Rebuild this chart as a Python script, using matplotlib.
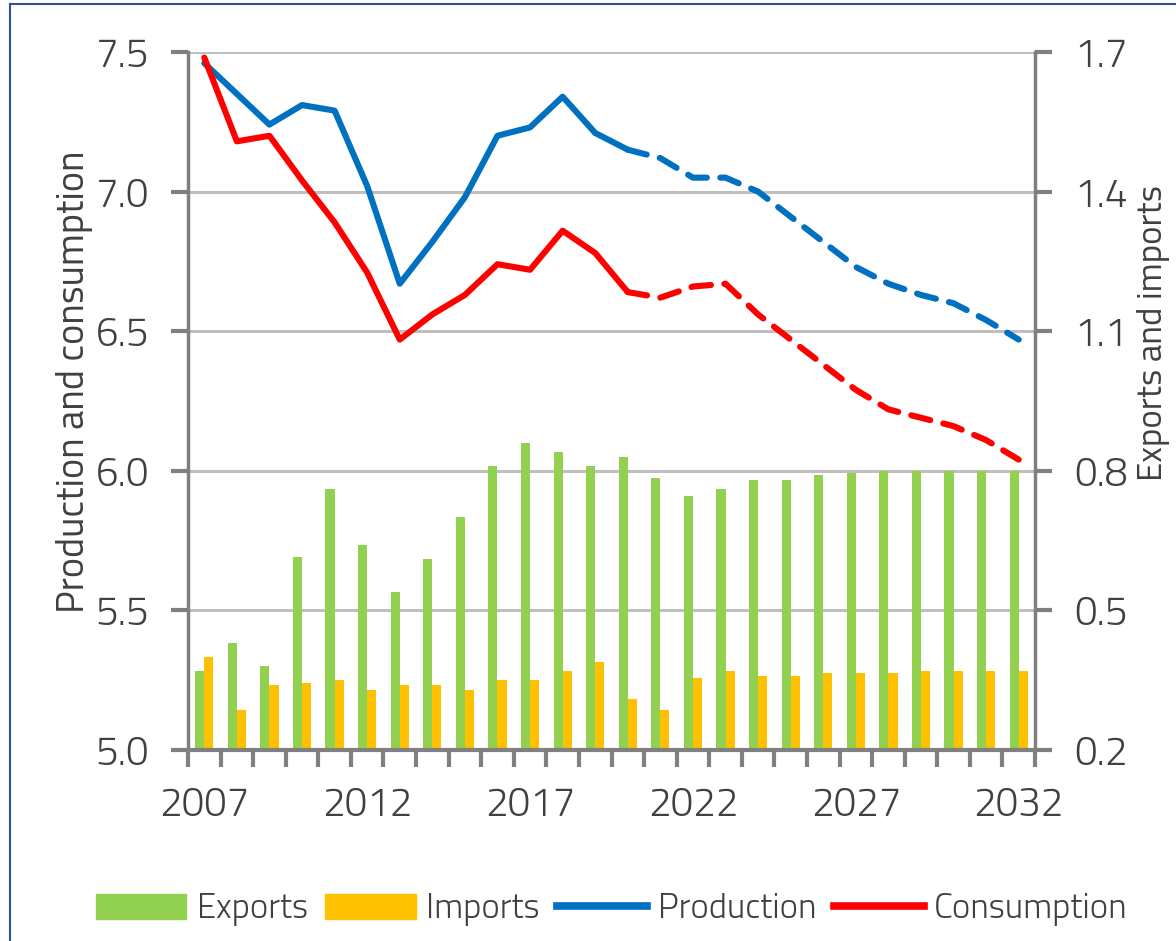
import numpy as np
import matplotlib.pyplot as plt
from matplotlib.lines import Line2D
from matplotlib.patches import Patch

plt.rcParams['font.family'] = ['Titillium Web', 'DejaVu Sans']
plt.rcParams['font.weight'] = 300
plt.rcParams['font.size'] = 29
plt.rcParams['text.color'] = '#404040'
plt.rcParams['axes.labelcolor'] = '#404040'

# data
years = list(range(2007, 2033))
production = [7.46, 7.35, 7.24, 7.31, 7.29, 7.02, 6.67, 6.82, 6.98, 7.20, 7.23, 7.34, 7.21,
              7.15, 7.12, 7.05, 7.05, 7.00, 6.91, 6.82, 6.73, 6.67, 6.63, 6.60, 6.54, 6.47]
consumption = [7.48, 7.18, 7.20, 7.04, 6.89, 6.71, 6.47, 6.56, 6.63, 6.74, 6.72, 6.86, 6.78,
               6.64, 6.62, 6.66, 6.67, 6.56, 6.47, 6.38, 6.29, 6.22, 6.19, 6.16, 6.11, 6.04]
exports = [0.37, 0.43, 0.38, 0.615, 0.76, 0.64, 0.54, 0.61, 0.70, 0.81, 0.86, 0.84, 0.81,
           0.83, 0.785, 0.745, 0.76, 0.78, 0.78, 0.79, 0.795, 0.80, 0.80, 0.80, 0.80, 0.80]
imports = [0.40, 0.285, 0.34, 0.345, 0.35, 0.33, 0.34, 0.34, 0.33, 0.35, 0.35, 0.37, 0.39,
           0.31, 0.285, 0.355, 0.37, 0.36, 0.36, 0.365, 0.365, 0.365, 0.37, 0.37, 0.37, 0.37]
last_actual = 2020

green = '#92D050'
orange = '#FFC000'
blue = '#0070C0'
red = '#FF0000'
axis_gray = '#808080'
grid_gray = '#BFBFBF'

x = np.arange(len(years))
split = years.index(last_actual)

fig = plt.figure(figsize=(11.76, 9.41), dpi=100)
ax = fig.add_axes([188/1176, 1 - 750/941, (1035-188)/1176, (750-52)/941])
ax2 = ax.twinx()

# bars on the right axis, in the background
w = 0.28
ax2.bar(x - w/2, exports, w, color=green, zorder=2)
ax2.bar(x + w/2, imports, w, color=orange, zorder=2)
ax2.set_ylim(0.2, 1.7)
ax2.set_yticks([0.2, 0.5, 0.8, 1.1, 1.4, 1.7])
ax2.set_yticklabels(['0.2', '0.5', '0.8', '1.1', '1.4', '1.7'])
ax2.yaxis.grid(True, color=grid_gray, lw=2.2, zorder=0)
ax2.set_axisbelow(True)

# lines on the left axis, on top
ax.set_zorder(ax2.get_zorder() + 1)
ax.patch.set_visible(False)
lw = 4.4
ax.plot(x[:split+1], production[:split+1], color=blue, lw=lw, solid_capstyle='round', solid_joinstyle='round')
ax.plot(x[split:], production[split:], color=blue, lw=lw, dashes=(3.2, 2.2), dash_capstyle='round', dash_joinstyle='round')
ax.plot(x[:split+1], consumption[:split+1], color=red, lw=lw, solid_capstyle='round', solid_joinstyle='round')
ax.plot(x[split:], consumption[split:], color=red, lw=lw, dashes=(3.2, 2.2), dash_capstyle='round', dash_joinstyle='round')
ax.set_ylim(5.0, 7.5)
ax.set_yticks([5.0, 5.5, 6.0, 6.5, 7.0, 7.5])
ax.set_yticklabels(['5.0', '5.5', '6.0', '6.5', '7.0', '7.5'])

ax.set_xlim(-0.5, len(years) - 0.5)
ax.set_xticks(x[::5])
ax.set_xticklabels([str(y) for y in years[::5]])
ax.set_xticks(np.arange(-0.5, len(years)), minor=True)
ax.tick_params(axis='x', which='major', length=0, pad=26, labelcolor='#404040')
ax.tick_params(axis='x', which='minor', length=12, width=3, color=axis_gray, direction='out')
ax.tick_params(axis='y', length=12, width=3, color=axis_gray, pad=16, labelcolor='#404040')
ax2.tick_params(axis='y', length=12, width=3, color=axis_gray, pad=16, labelcolor='#404040')
ax2.tick_params(axis='x', length=0)

for s in ['top', 'right']:
    ax.spines[s].set_visible(False)
for s in ['top', 'left', 'bottom']:
    ax2.spines[s].set_visible(False)
ax.spines['left'].set_color(axis_gray)
ax.spines['left'].set_linewidth(2.5)
ax.spines['bottom'].set_color(axis_gray)
ax.spines['bottom'].set_linewidth(3)
ax2.spines['right'].set_color(axis_gray)
ax2.spines['right'].set_linewidth(2.5)

ax.set_ylabel('Production and consumption', fontsize=27.5)
ax.yaxis.set_label_coords(-0.112, 0.527)
ax2.set_ylabel('Exports and imports', fontsize=25, rotation=90)
ax2.yaxis.set_label_coords(1.12, 0.597)

handles = [Patch(color=green), Patch(color=orange),
           Line2D([], [], color=blue, lw=5.5), Line2D([], [], color=red, lw=5.5)]
fig.legend(handles, ['Exports', 'Imports', 'Production', 'Consumption'],
           loc='center', bbox_to_anchor=(612/1176, 1 - 910/941), ncol=4, frameon=False,
           handlelength=2.6, handleheight=0.72, handletextpad=0.3, columnspacing=0.5,
           fontsize=25)

# thin blue frame round the figure (left and top edges visible)
fig.add_artist(Line2D([10/1176, 10/1176], [0, 1 - 4/941], color='#2F5597', lw=1.5, transform=fig.transFigure))
fig.add_artist(Line2D([10/1176, 1], [1 - 4/941, 1 - 4/941], color='#2F5597', lw=1.5, transform=fig.transFigure))

fig.savefig('out.png', dpi=100)
